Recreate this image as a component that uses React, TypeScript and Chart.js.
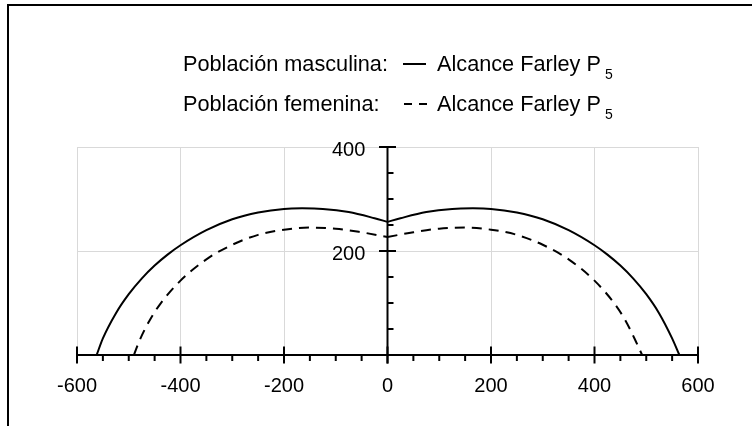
import React, { useEffect, useRef } from 'react';
import { Chart, registerables } from 'chart.js';

Chart.register(...registerables);

// ---- data ----
const xLimits = [-600, 600];
const yLimits = [0, 400];
const xStep = 200;
const yStep = 200;
const minorStep = 50;

const maleX = [-562, -550, -525, -500, -475, -450, -425, -400, -350, -300, -250, -200, -165, -125, -75, -25, 0,
  25, 75, 125, 165, 200, 250, 300, 350, 400, 425, 450, 475, 500, 525, 550, 564];
const maleY = [0, 32, 80, 117, 147, 172, 193, 211, 240, 261, 274, 281, 282, 281, 275, 263, 256,
  263, 275, 281, 282, 281, 274, 261, 240, 211, 193, 172, 147, 117, 80, 32, 0];

const femaleX = [-490, -480, -460, -440, -400, -350, -300, -250, -200, -150, -100, -50, 0,
  50, 100, 150, 200, 250, 300, 350, 400, 440, 460, 480, 492];
const femaleY = [0, 26, 66, 97, 143, 184, 212, 231, 241, 245, 243, 236, 227,
  236, 243, 245, 241, 231, 212, 184, 143, 97, 66, 26, 0];

const legendLabels = ['Población masculina:', 'Población femenina:'];
const seriesName = 'Alcance Farley P';
const seriesSub = '5';

const FONT = '"Liberation Sans", Arial, Helvetica, sans-serif';

function half(xs: number[], ys: number[], side: number) {
  return xs
    .map((x, i) => ({ x, y: ys[i] }))
    .filter((p) => (side < 0 ? p.x <= 0 : p.x >= 0));
}

const crossAxes = {
  id: 'crossAxes',
  beforeDatasetsDraw(chart: any) {
    const { ctx } = chart;
    const xs = chart.scales.x;
    const ys = chart.scales.y;
    const x0 = xs.getPixelForValue(0);
    const y0 = ys.getPixelForValue(0);
    const MAJOR = 8.5;
    const MINOR = 6;
    ctx.save();
    ctx.strokeStyle = '#000';
    ctx.lineWidth = 2;
    const line = (a: number, b: number, c: number, d: number) => {
      ctx.beginPath();
      ctx.moveTo(a, b);
      ctx.lineTo(c, d);
      ctx.stroke();
    };
    // main axes
    line(xs.getPixelForValue(xLimits[0]), y0, xs.getPixelForValue(xLimits[1]), y0);
    line(x0, ys.getPixelForValue(yLimits[1]), x0, y0 + MAJOR);
    // minor ticks
    for (let v = xLimits[0]; v <= xLimits[1]; v += minorStep) {
      if (v % xStep === 0) continue;
      const p = xs.getPixelForValue(v);
      line(p, y0, p, y0 + MINOR);
    }
    for (let v = yLimits[0]; v <= yLimits[1]; v += minorStep) {
      if (v % yStep === 0) continue;
      const p = ys.getPixelForValue(v);
      line(x0, p, x0 + MINOR, p);
    }
    // major ticks
    xs.ticks.forEach((t: any) => {
      const p = xs.getPixelForValue(t.value);
      line(p, y0 - MAJOR, p, y0 + MAJOR);
    });
    ys.ticks.forEach((t: any) => {
      const p = ys.getPixelForValue(t.value);
      line(x0 - MAJOR, p, x0 + MAJOR, p);
    });
    ctx.restore();
  },
};

export default function App() {
  const ref = useRef<HTMLCanvasElement | null>(null);

  useEffect(() => {
    if (!ref.current) return;
    Chart.defaults.font.family = FONT;
    const lineBase = {
      borderColor: '#000',
      borderWidth: 2,
      pointRadius: 0,
      showLine: true,
      fill: false,
      cubicInterpolationMode: 'monotone' as const,
    };
    const chart = new Chart(ref.current, {
      type: 'scatter',
      data: {
        datasets: [
          { ...lineBase, label: 'male-left', data: half(maleX, maleY, -1) },
          { ...lineBase, label: 'male-right', data: half(maleX, maleY, 1) },
          { ...lineBase, label: 'female-left', data: half(femaleX, femaleY, -1), borderDash: [10, 7] },
          { ...lineBase, label: 'female-right', data: half(femaleX, femaleY, 1), borderDash: [10, 7] },
        ],
      },
      options: {
        animation: false,
        responsive: false,
        maintainAspectRatio: false,
        layout: { padding: { top: 147, left: 77, right: 54, bottom: 9 } },
        plugins: {
          legend: { display: false },
          tooltip: { enabled: false },
        },
        scales: {
          x: {
            type: 'linear',
            position: 'bottom',
            min: xLimits[0],
            max: xLimits[1],
            ticks: {
              stepSize: xStep,
              padding: 19,
              color: '#000',
              font: { size: 20, family: FONT },
              callback: (v: any) => String(v),
            },
            grid: { color: '#d9d9d9', lineWidth: 1, drawTicks: false },
            border: { display: false },
          },
          y: {
            type: 'linear',
            position: { x: 0 } as any,
            min: yLimits[0],
            max: yLimits[1],
            ticks: {
              stepSize: yStep,
              padding: 24,
              labelOffset: 3,
              color: '#000',
              font: { size: 20, family: FONT },
              // trailing spaces keep the label clear of the centred axis
              callback: (v: any) => (v === 0 ? '' : String(v) + '    '),
            },
            grid: { color: '#d9d9d9', lineWidth: 1, drawTicks: false },
            border: { display: false },
          },
        },
      },
      plugins: [crossAxes],
    });
    return () => chart.destroy();
  }, []);

  const textStyle: React.CSSProperties = {
    position: 'absolute',
    fontFamily: FONT,
    fontSize: 21.7,
    lineHeight: '24px',
    color: '#000',
    whiteSpace: 'nowrap',
  };

  const rows = [
    { top: 52, dashed: false, lineY: 64 },
    { top: 92, dashed: true, lineY: 104 },
  ];

  return (
    <div style={{ position: 'fixed', left: 0, top: 0, width: 752, height: 426, overflow: 'hidden', background: '#fff' }}>
      <canvas ref={ref} width={752} height={426} style={{ position: 'absolute', left: 0, top: 0, width: 752, height: 426 }} />
      <div style={{ position: 'absolute', left: 7, top: 4, width: 745, height: 2, background: '#000' }} />
      <div style={{ position: 'absolute', left: 7, top: 4, width: 2, height: 422, background: '#000' }} />
      {rows.map((r, i) => (
        <React.Fragment key={i}>
          <div style={{ ...textStyle, left: 183, top: r.top }}>{legendLabels[i]}</div>
          {r.dashed ? (
            <>
              <div style={{ position: 'absolute', left: 404, top: r.lineY - 1, width: 8, height: 2, background: '#000' }} />
              <div style={{ position: 'absolute', left: 419, top: r.lineY - 1, width: 8, height: 2, background: '#000' }} />
            </>
          ) : (
            <div style={{ position: 'absolute', left: 403, top: r.lineY - 1, width: 23, height: 2, background: '#000' }} />
          )}
          <div style={{ ...textStyle, left: 437, top: r.top }}>
            {seriesName}
            <span style={{ fontSize: 14, position: 'relative', top: 8, marginLeft: 4 }}>{seriesSub}</span>
          </div>
        </React.Fragment>
      ))}
    </div>
  );
}
